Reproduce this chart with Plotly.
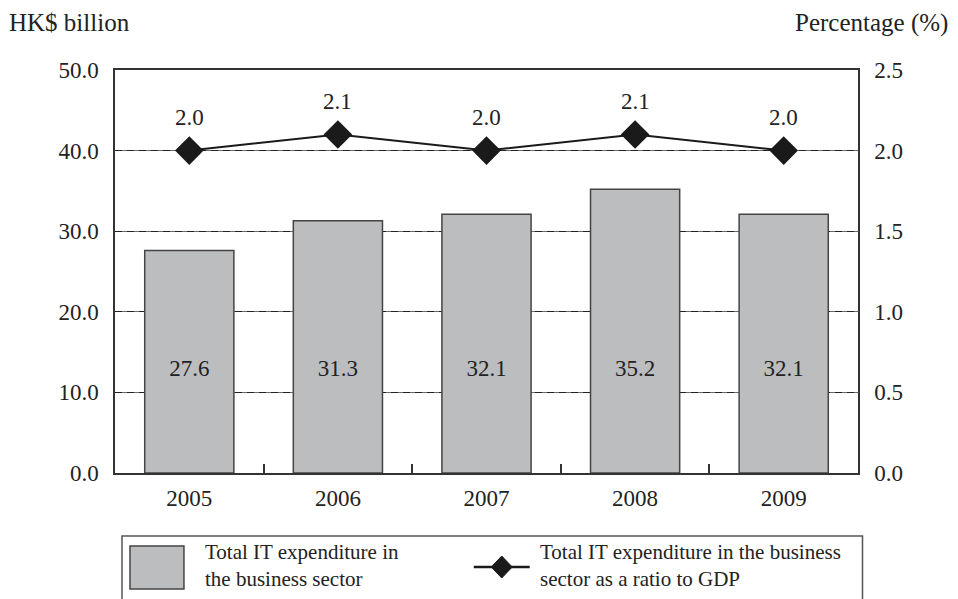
import plotly.graph_objects as go

years = ["2005", "2006", "2007", "2008", "2009"]
it_expenditure = [27.6, 31.3, 32.1, 35.2, 32.1]
gdp_ratio = [2.0, 2.1, 2.0, 2.1, 2.0]
left_ticks = [0, 10, 20, 30, 40, 50]
right_ticks = [0, 0.5, 1.0, 1.5, 2.0, 2.5]
bar_label_level = 12.8  # labels sit at a common height inside the bars

FONT = "Liberation Serif, Times New Roman, serif"
TXT = "#222222"

# plot-area geometry (pixels) for placing decorations
L, R, T, B = 115, 858.5, 70, 473
def X(px):
    return (px - L) / (R - L)
def Y(py):
    return (B - py) / (B - T)

fig = go.Figure()
fig.add_trace(go.Bar(
    x=years, y=it_expenditure,
    marker=dict(color="#bcbdbf", line=dict(color="#444444", width=1.5)),
    showlegend=False, yaxis="y", hoverinfo="x+y",
))
fig.add_trace(go.Scatter(
    x=years, y=[bar_label_level] * len(years), yaxis="y",
    mode="text", text=[f"{v:.1f}" for v in it_expenditure],
    textposition="middle center",
    textfont=dict(family=FONT, size=23, color=TXT),
    showlegend=False, hoverinfo="skip",
))
fig.add_trace(go.Scatter(
    x=years, y=gdp_ratio, yaxis="y2",
    mode="lines+markers",
    line=dict(color="#1a1a1a", width=2),
    marker=dict(symbol="diamond", size=22, color="#1a1a1a"),
    cliponaxis=False, showlegend=False,
))
for i, v in enumerate(gdp_ratio):
    fig.add_annotation(x=i, y=v, xref="x", yref="y2", text=f"{v:.1f}",
                       showarrow=False, yshift=33, yanchor="middle",
                       font=dict(family=FONT, size=23, color=TXT))

axis_line = dict(showline=True, linecolor="#333333", linewidth=1.5)

fig.update_layout(
    width=958, height=599,
    margin=dict(l=L, r=958 - R, t=T, b=599 - B),
    paper_bgcolor="white", plot_bgcolor="white",
    font=dict(family=FONT, size=23, color=TXT),
    bargap=0.4,
    showlegend=False,
    xaxis=dict(
        type="category", categoryorder="array", categoryarray=years,
        range=[-0.5, len(years) - 0.5], autorange=False,
        **axis_line, mirror=True,
        ticks="inside", tickson="boundaries", ticklen=9,
        tickcolor="#333333", tickwidth=1.5,
        showgrid=False, ticklabelstandoff=4,
        tickfont=dict(family=FONT, size=23, color=TXT),
    ),
    yaxis=dict(
        range=[0, 50], tickvals=left_ticks,
        ticktext=[f"{v:.1f}" for v in left_ticks],
        **axis_line, ticks="", showgrid=True,
        gridcolor="#6a6a6a", gridwidth=1.2,
        zeroline=False, ticklabelstandoff=10,
        tickfont=dict(family=FONT, size=23, color=TXT),
    ),
    yaxis2=dict(
        range=[0, 2.5], tickvals=right_ticks,
        ticktext=[f"{v:.1f}" for v in right_ticks],
        overlaying="y", side="right",
        **axis_line, ticks="", showgrid=True,
        gridcolor="#222222", gridwidth=1.4, griddash="7px,5px",
        zeroline=False, ticklabelstandoff=10,
        tickfont=dict(family=FONT, size=23, color=TXT),
    ),
)

# axis titles
fig.add_annotation(text="HK$ billion", xref="paper", yref="paper",
                   x=X(7), y=Y(23), xanchor="left", yanchor="middle",
                   showarrow=False, font=dict(family=FONT, size=25, color=TXT))
fig.add_annotation(text="Percentage (%)", xref="paper", yref="paper",
                   x=X(951), y=Y(23), xanchor="right", yanchor="middle",
                   showarrow=False, font=dict(family=FONT, size=25, color=TXT))

# custom legend box
fig.add_shape(type="rect", xref="paper", yref="paper",
              x0=X(122), x1=X(863), y0=Y(536), y1=Y(620),
              line=dict(color="#555555", width=1.5), fillcolor="rgba(0,0,0,0)")
fig.add_shape(type="rect", xref="paper", yref="paper",
              x0=X(130), x1=X(184), y0=Y(546), y1=Y(589),
              line=dict(color="#444444", width=1.5), fillcolor="#bcbdbf")
fig.add_shape(type="line", xref="paper", yref="paper",
              x0=X(474), x1=X(530), y0=Y(567), y1=Y(567),
              line=dict(color="#1a1a1a", width=2.5))
cx, cy, hw, hh = 502, 567, 10.5, 11
fig.add_shape(type="path", xref="paper", yref="paper",
              path=(f"M {X(cx - hw)},{Y(cy)} L {X(cx)},{Y(cy - hh)} "
                    f"L {X(cx + hw)},{Y(cy)} L {X(cx)},{Y(cy + hh)} Z"),
              line=dict(color="#1a1a1a", width=1), fillcolor="#1a1a1a")
fig.add_annotation(text="Total IT expenditure in<br>the business sector",
                   xref="paper", yref="paper", x=X(203), y=Y(565),
                   xanchor="left", yanchor="middle", align="left",
                   showarrow=False, font=dict(family=FONT, size=21, color=TXT))
fig.add_annotation(text="Total IT expenditure in the business<br>sector as a ratio to GDP",
                   xref="paper", yref="paper", x=X(538), y=Y(565),
                   xanchor="left", yanchor="middle", align="left",
                   showarrow=False, font=dict(family=FONT, size=21, color=TXT))

fig.write_html("out.html")
